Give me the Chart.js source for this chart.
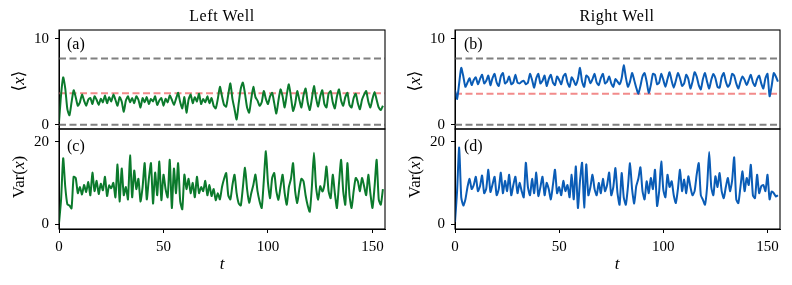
<!DOCTYPE html>
<html>
<head>
<meta charset="utf-8">
<script src="https://cdn.jsdelivr.net/npm/chart.js@4.4.1/dist/chart.umd.min.js"></script>
<style>
  html, body { margin: 0; padding: 0; background: #fff; }
  #wrap { position: relative; width: 792px; height: 285px; overflow: hidden; background: #fff; }
  canvas { position: absolute; }
  .txt { position: absolute; font-family: "Liberation Serif", "DejaVu Serif", serif; font-size: 15px; color: #000; white-space: nowrap; transform: translate(-50%, -50%); line-height: 1; }
  .title { font-size: 16px; letter-spacing: 0.6px; }
  .rot { transform: translate(-50%, -50%) rotate(-90deg); font-size: 17px; }
  .lbl { transform: none; font-size: 16px; }
</style>
</head>
<body>
<div id="wrap">
  <canvas id="cA" width="396" height="131" style="left:0;top:0"></canvas>
  <canvas id="cC" width="396" height="157" style="left:0;top:128px"></canvas>
  <canvas id="cB" width="396" height="131" style="left:396px;top:0"></canvas>
  <canvas id="cD" width="396" height="157" style="left:396px;top:128px"></canvas>

  <div class="txt title" style="left:222px;top:16px">Left Well</div>
  <div class="txt title" style="left:617px;top:16px">Right Well</div>
  <div class="txt lbl" style="left:67px;top:36px">(a)</div>
  <div class="txt lbl" style="left:67px;top:138px">(c)</div>
  <div class="txt lbl" style="left:464px;top:36px">(b)</div>
  <div class="txt lbl" style="left:464px;top:138px">(d)</div>
  <div class="txt rot" style="left:18px;top:81px">⟨<i>x</i>⟩</div>
  <div class="txt rot" style="left:18px;top:177px">Var(<i>x</i>)</div>
  <div class="txt rot" style="left:414px;top:81px">⟨<i>x</i>⟩</div>
  <div class="txt rot" style="left:414px;top:177px">Var(<i>x</i>)</div>
  <div class="txt" style="left:222px;top:263px;font-size:17px"><i>t</i></div>
  <div class="txt" style="left:617px;top:263px;font-size:17px"><i>t</i></div>
</div>
<script>
// ---------------- data ----------------
const T_STEP = 1;
const X_MAX = 156;
const xTicks = [0, 50, 100, 150];
const meanTicks = [0, 10];
const varTicks = [0, 20];

// reference levels in the mean panels
const wellEdges = [0, 7.7];      // grey dashed
const leftCentre = [3.65];       // red dashed
const rightCentre = [3.6];

// (a) Left well <x>
const leftMean = [
 0.3,3.5,5.5,4.2,1.8,1.1,2.6,4.0,3.2,2.2, 2.6,3.5,2.8,2.2,2.9,3.1,2.4,3.3,2.9,2.3,
 3.0,2.6,3.4,2.5,3.2,2.7,3.5,2.9,2.2,3.2, 2.7,1.5,2.8,3.3,2.6,3.1,2.5,3.3,2.9,2.0,
 3.1,2.6,3.2,2.4,3.0,2.7,3.3,2.3,2.8,3.1, 2.2,3.0,2.6,3.4,2.9,2.3,3.0,3.7,2.6,1.9,
 3.2,1.4,2.9,3.5,2.5,3.2,2.7,3.6,2.4,3.0, 2.6,3.3,2.5,3.1,2.2,1.9,3.0,4.4,3.3,2.3,
 2.1,3.5,4.8,3.0,1.8,0.6,2.5,4.2,4.9,3.6, 2.0,1.4,3.0,4.4,3.2,2.8,2.2,2.6,3.9,3.0,
 2.4,3.3,3.7,2.5,1.3,2.8,4.1,3.3,2.0,3.5, 4.7,3.2,1.6,2.4,3.9,2.9,2.0,3.4,4.2,2.6,
 1.7,3.0,4.5,3.1,2.1,3.3,4.0,2.4,2.0,3.6, 3.9,2.6,1.9,3.3,4.1,2.8,2.2,3.2,3.7,2.3,
 2.0,3.1,3.6,2.5,1.8,2.9,3.5,3.9,2.7,2.0, 3.0,3.8,2.9,2.0,1.7,2.2
];
// (c) Left well Var(x)
const leftVar = [
 0.2,6,16,9,4.8,4.5,3.8,11.5,11.2,7.5, 9.0,7.2,9.5,7.8,10.2,7.0,12.5,8.0,10.5,7.3,
 9.8,8.2,11.5,6.8,9.4,8.7,10.0,6.5,14.5,5.5, 13.5,7.0,9.0,6.0,16.7,6.5,13.0,8.5,11.0,5.5,
 9.0,14.8,6.0,11.0,14.8,5.0,12.5,7.0,15.2,5.8, 12.0,8.5,6.5,15.6,3.9,13.5,7.5,14.8,5.5,3.6,
 12.0,8.5,11.0,7.5,10.0,6.5,11.5,7.5,9.0,8.0, 10.5,7.0,9.5,6.8,8.5,5.8,7.5,6.0,9.0,11.0,
 12.4,7.0,6.0,9.5,12.0,7.5,5.0,4.5,9.0,13.7, 8.5,5.2,7.5,9.5,12.0,8.0,5.5,3.9,10.5,17.7,
 10.0,6.3,11.2,12.4,8.0,5.9,9.0,12.0,7.5,4.7, 9.0,11.0,14.8,8.0,5.1,8.5,11.0,10.4,7.0,4.5,
 3.0,9.0,17.3,9.0,5.9,9.2,7.9,9.5,14.0,8.0, 6.3,12.0,7.5,3.9,10.0,15.6,8.0,4.7,14.8,7.0,
 3.9,8.0,11.2,10.4,8.0,11.2,9.2,7.0,12.0,7.5, 3.9,9.0,15.6,6.0,4.7,8.5
];
// (b) Right well <x>
const rightMean = [
 4.0,3.0,4.8,6.6,5.6,4.4,4.9,5.4,4.6,5.2, 5.5,4.7,5.3,5.8,4.8,5.1,5.7,4.6,5.4,5.9,
 4.9,4.5,5.6,6.0,4.8,5.0,5.6,4.7,4.9,5.8, 4.9,4.8,5.0,5.1,4.7,4.9,5.9,5.2,4.3,5.4,
 5.9,4.8,5.1,5.7,4.5,5.3,5.8,4.9,4.6,5.6, 5.2,4.7,5.6,5.9,4.9,4.4,5.5,5.1,4.6,5.3,
 6.6,5.0,4.4,5.7,5.5,4.8,5.3,5.9,4.9,4.6, 5.4,5.9,4.8,5.0,5.6,4.8,4.4,5.3,5.0,4.7,
 5.4,6.9,5.5,4.4,5.0,6.0,5.2,4.3,3.6,4.5, 5.6,6.0,5.0,3.7,4.6,5.9,5.8,4.7,4.9,5.9,
 5.2,4.4,5.3,6.1,5.1,4.3,5.1,6.0,5.4,4.5, 4.8,5.8,5.3,4.2,5.0,6.1,5.6,4.6,4.1,5.3,
 6.0,5.0,4.2,5.2,5.9,5.4,4.4,4.3,5.5,6.0, 5.0,4.4,4.8,5.9,5.7,4.8,4.2,5.0,5.6,5.2,
 4.6,5.2,5.8,4.9,4.5,5.3,5.7,4.8,4.2,5.4, 5.9,3.3,4.5,6.0,5.6,5.0
];
// (d) Right well Var(x)
const rightVar = [
 0.5,8,18.6,6.5,4.5,6.0,9.0,11.0,8.5,9.5, 11.5,8.0,9.2,11.8,7.5,8.6,13.2,7.8,9.6,11.5,
 7.0,8.5,12.5,7.5,10.5,8.0,12.0,7.0,9.5,11.5, 7.5,10.0,8.0,6.5,14.9,9.0,7.0,11.0,7.5,12.5,
 6.8,9.0,11.5,7.0,10.0,8.5,6.0,9.5,13.2,7.5, 9.0,7.0,10.5,8.0,9.5,6.5,12.0,6.0,14.0,3.9,
 10.5,14.9,4.0,14.5,7.0,9.0,12.0,8.5,7.0,10.0, 7.5,11.0,8.0,9.5,12.5,7.0,9.0,13.6,7.5,4.7,
 12.4,6.5,4.7,9.0,14.8,8.5,5.0,9.2,11.0,13.8, 8.0,6.0,10.4,7.5,11.2,8.5,13.2,4.4,8.0,15.2,
 8.3,6.5,12.0,9.0,10.4,7.0,5.1,8.5,13.2,8.0, 10.8,7.5,11.6,9.0,7.0,8.0,12.0,14.8,7.0,5.9,
 4.7,9.0,17.5,9.0,7.0,11.6,9.0,12.4,8.0,6.3, 9.0,11.2,8.0,10.5,16.2,6.0,5.1,9.0,12.8,8.0,
 11.2,9.5,14.4,7.0,6.3,12.0,7.5,9.2,9.5,8.0, 12.0,6.0,7.9,7.5,6.7,7.0
];

// ---------------- helpers ----------------
const GREEN = '#0b7a2c';
const BLUE = '#0a5cb6';
const GREY = '#808080';
const RED = '#f28b8b';
const FONT = { family: '"Liberation Serif", "DejaVu Serif", serif', size: 15 };

const toPoints = arr => arr.map((v, i) => ({ x: i * T_STEP, y: v }));
const hLine = (v, color) => ({
  data: [{ x: 0, y: v }, { x: X_MAX, y: v }],
  borderColor: color, borderWidth: 2, borderDash: [7, 3.5],
  pointRadius: 0, fill: false, tension: 0
});

const boxPlugin = {
  id: 'box',
  afterDraw(chart) {
    const a = chart.chartArea, ctx = chart.ctx;
    ctx.save();
    ctx.strokeStyle = '#000';
    ctx.lineWidth = 1.1;
    ctx.strokeRect(a.left, a.top, a.right - a.left, a.bottom - a.top);
    ctx.restore();
  }
};

function panel(id, values, color, yMin, yMax, yTicks, refs, showX, padRight, padTop, padBottom) {
  const datasets = [{
    data: toPoints(values), borderColor: color, borderWidth: 2,
    pointRadius: 0, fill: false, tension: 0.2
  }];
  refs.forEach(r => datasets.push(hLine(r.v, r.c)));
  return new Chart(document.getElementById(id), {
    type: 'line',
    data: { datasets },
    plugins: [boxPlugin],
    options: {
      responsive: false, animation: false, devicePixelRatio: 1,
      layout: { padding: { left: 0, right: padRight, top: padTop, bottom: padBottom } },
      plugins: { legend: { display: false }, tooltip: { enabled: false } },
      scales: {
        x: {
          type: 'linear', min: 0, max: X_MAX, display: showX,
          afterBuildTicks: s => { s.ticks = xTicks.map(v => ({ value: v })); },
          afterFit: s => { s.height = showX ? 35 : 0; s.paddingLeft = 0; s.paddingRight = 0; },
          grid: { drawOnChartArea: false, drawTicks: true, tickLength: 4, color: '#000', lineWidth: 1 },
          border: { display: true, color: '#000', width: 1 },
          ticks: { font: FONT, color: '#000', padding: 5, maxRotation: 0, autoSkip: false }
        },
        y: {
          type: 'linear', min: yMin, max: yMax,
          afterBuildTicks: s => { s.ticks = yTicks.map(v => ({ value: v })); },
          afterFit: s => { s.width = 59; s.paddingTop = 0; s.paddingBottom = 0; },
          grid: { drawOnChartArea: false, drawTicks: true, tickLength: 4, color: '#000', lineWidth: 1 },
          border: { display: true, color: '#000', width: 1 },
          ticks: { font: FONT, color: '#000', padding: 6 }
        }
      }
    }
  });
}

const refsLeft = [
  { v: wellEdges[1], c: GREY }, { v: leftCentre[0], c: RED }, { v: wellEdges[0], c: GREY }
];
const refsRight = [
  { v: wellEdges[1], c: GREY }, { v: rightCentre[0], c: RED }, { v: wellEdges[0], c: GREY }
];

panel('cA', leftMean, GREEN, -0.5, 11, meanTicks, refsLeft, false, 11, 30, 2);
panel('cC', leftVar, GREEN, -1.2, 23.1, varTicks, [], true, 11, 1, 21);
panel('cB', rightMean, BLUE, -0.5, 11, meanTicks, refsRight, false, 12, 30, 2);
panel('cD', rightVar, BLUE, -1.2, 23.1, varTicks, [], true, 12, 1, 21);
</script>
</body>
</html>
